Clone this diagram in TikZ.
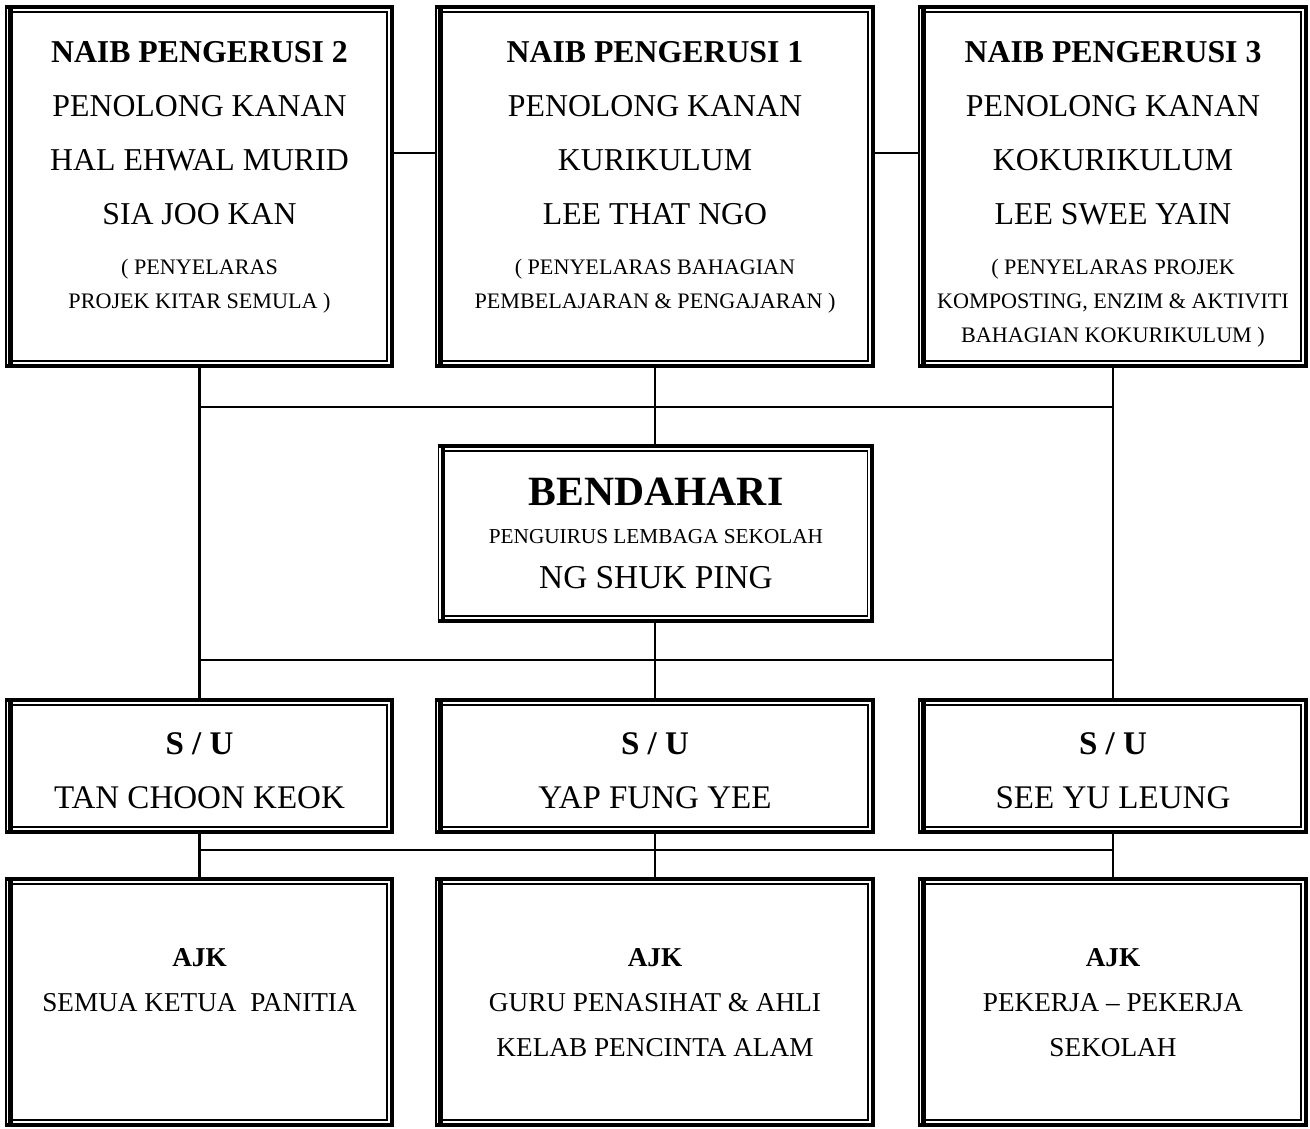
\documentclass[tikz,border=0pt]{standalone}
\usepackage{fontspec}
\setmainfont{Liberation Serif}
\usetikzlibrary{positioning, calc}
\newcommand{\rowtxt}[3]{{\fontsize{#1}{#2}\selectfont #3\par}}
\newcommand{\boxtext}[3]{\parbox[c][#2][t]{#1}{\centering #3}}

\begin{document}
\begin{tikzpicture}[
  x=0.02cm, y=-0.02cm,
  orgbox/.style={inner sep=0pt, outer sep=0pt},
  thickrule/.style={line width=2.45pt},
  thinrule/.style={line width=0.97pt},
  conn/.style={line width=1.2pt}
]
  \useasboundingbox (0,0) rectangle (1310,1128);

  % naib pengerusi
  \node[orgbox] (np2) at (199.5,186.5) {\boxtext{7.78cm}{7.26cm}{
    \rowtxt{18.1}{30.7}{\rule{0pt}{32.7pt}\textbf{NAIB PENGERUSI 2}}
    \rowtxt{18.1}{30.7}{PENOLONG KANAN}
    \rowtxt{18.1}{30.7}{HAL EHWAL MURID}
    \rowtxt{18.1}{30.7}{SIA JOO KAN}
    \rowtxt{12.6}{28.3}{( PENYELARAS}
    \rowtxt{12.6}{19.6}{PROJEK KITAR SEMULA )}}};
  \node[orgbox] (np1) at (655,186.5) {\boxtext{8.8cm}{7.26cm}{
    \rowtxt{18.1}{30.7}{\rule{0pt}{32.7pt}\textbf{NAIB PENGERUSI 1}}
    \rowtxt{18.1}{30.7}{PENOLONG KANAN}
    \rowtxt{18.1}{30.7}{KURIKULUM}
    \rowtxt{18.1}{30.7}{LEE THAT NGO}
    \rowtxt{12.6}{28.3}{( PENYELARAS BAHAGIAN}
    \rowtxt{12.6}{19.6}{PEMBELAJARAN \& PENGAJARAN )}}};
  \node[orgbox] (np3) at (1113,186.5) {\boxtext{7.8cm}{7.26cm}{
    \rowtxt{18.1}{30.7}{\rule{0pt}{32.7pt}\textbf{NAIB PENGERUSI 3}}
    \rowtxt{18.1}{30.7}{PENOLONG KANAN}
    \rowtxt{18.1}{30.7}{KOKURIKULUM}
    \rowtxt{18.1}{30.7}{LEE SWEE YAIN}
    \rowtxt{12.6}{28.3}{( PENYELARAS PROJEK}
    \rowtxt{12.6}{19.6}{KOMPOSTING, ENZIM \& AKTIVITI}
    \rowtxt{12.6}{19.6}{BAHAGIAN KOKURIKULUM )}}};

  % bendahari
  \node[orgbox] (bend) at (656,533.5) {\boxtext{8.74cm}{3.58cm}{
    \rowtxt{23.7}{30}{\rule{0pt}{35.2pt}\textbf{BENDAHARI}}
    \rowtxt{12.1}{21.7}{PENGUIRUS LEMBAGA SEKOLAH}
    \rowtxt{19}{25.6}{NG SHUK PING}}};

  % setiausaha
  \node[orgbox] (su1) at (199.5,766) {\boxtext{7.78cm}{2.72cm}{
    \rowtxt{18.8}{30.7}{\rule{0pt}{31.9pt}\textbf{S / U}}
    \rowtxt{18.8}{30.7}{TAN CHOON KEOK}}};
  \node[orgbox] (su2) at (655,766) {\boxtext{8.8cm}{2.72cm}{
    \rowtxt{18.8}{30.7}{\rule{0pt}{31.9pt}\textbf{S / U}}
    \rowtxt{18.8}{30.7}{YAP FUNG YEE}}};
  \node[orgbox] (su3) at (1113,766) {\boxtext{7.8cm}{2.72cm}{
    \rowtxt{18.8}{30.7}{\rule{0pt}{31.9pt}\textbf{S / U}}
    \rowtxt{18.8}{30.7}{SEE YU LEUNG}}};

  % ajk
  \node[orgbox] (ajk1) at (199.5,1002) {\boxtext{7.78cm}{5cm}{
    \rowtxt{15.5}{25.6}{\rule{0pt}{50.9pt}\textbf{AJK}}
    \rowtxt{15.5}{25.6}{SEMUA KETUA\ \ PANITIA}}};
  \node[orgbox] (ajk2) at (655,1002) {\boxtext{8.8cm}{5cm}{
    \rowtxt{15.5}{25.6}{\rule{0pt}{50.9pt}\textbf{AJK}}
    \rowtxt{15.5}{25.6}{GURU PENASIHAT \& AHLI}
    \rowtxt{15.5}{25.6}{KELAB PENCINTA ALAM}}};
  \node[orgbox] (ajk3) at (1113,1002) {\boxtext{7.8cm}{5cm}{
    \rowtxt{15.5}{25.6}{\rule{0pt}{50.9pt}\textbf{AJK}}
    \rowtxt{15.5}{25.6}{PEKERJA -- PEKERJA}
    \rowtxt{15.5}{25.6}{SEKOLAH}}};

  % thick-thin frames
  \foreach \b in {np2,np1,np3,bend,su1,su2,su3,ajk1,ajk2,ajk3} {
    \draw[thickrule] ([yshift=-1.225pt]\b.north west) -- ([shift={(-1.225pt,-1.225pt)}]\b.north east)
      -- ([shift={(-1.225pt,1.225pt)}]\b.south east) -- ([yshift=1.225pt]\b.south west);
    \draw[thinrule] ([xshift=0.485pt]\b.north west) -- ([xshift=0.485pt]\b.south west);
    \draw[thickrule] ([shift={(3.165pt,-2.45pt)}]\b.north west) -- ([shift={(3.165pt,2.45pt)}]\b.south west);
    \draw[thinrule] ([shift={(4.39pt,-3.905pt)}]\b.north west) -- ([shift={(-3.905pt,-3.905pt)}]\b.north east)
      -- ([shift={(-3.905pt,3.905pt)}]\b.south east) -- ([shift={(4.39pt,3.905pt)}]\b.south west);
  }

  % connectors
  \coordinate (busA) at (0,407);
  \coordinate (busB) at (0,660);
  \coordinate (busC) at (0,850);
  \draw[conn] ([yshift=0.67cm]np2.east) -- ([yshift=0.67cm]np1.west);
  \draw[conn] ([yshift=0.67cm]np1.east) -- ([yshift=0.67cm]np3.west);
  \draw[conn] (np2.south) -- (su1.north);
  \draw[conn] (np3.south) -- (su3.north);
  \draw[conn] (np1.south) -- (np1.south |- bend.north);
  \draw[conn] (bend.south -| su2.north) -- (su2.north);
  \draw[conn] (np2.south |- busA) -- (np3.south |- busA);
  \draw[conn] (np2.south |- busB) -- (np3.south |- busB);
  \draw[conn] (su1.south) -- (ajk1.north);
  \draw[conn] (su2.south) -- (ajk2.north);
  \draw[conn] (su3.south) -- (ajk3.north);
  \draw[conn] (su1.south |- busC) -- (su3.south |- busC);
\end{tikzpicture}
\end{document}
